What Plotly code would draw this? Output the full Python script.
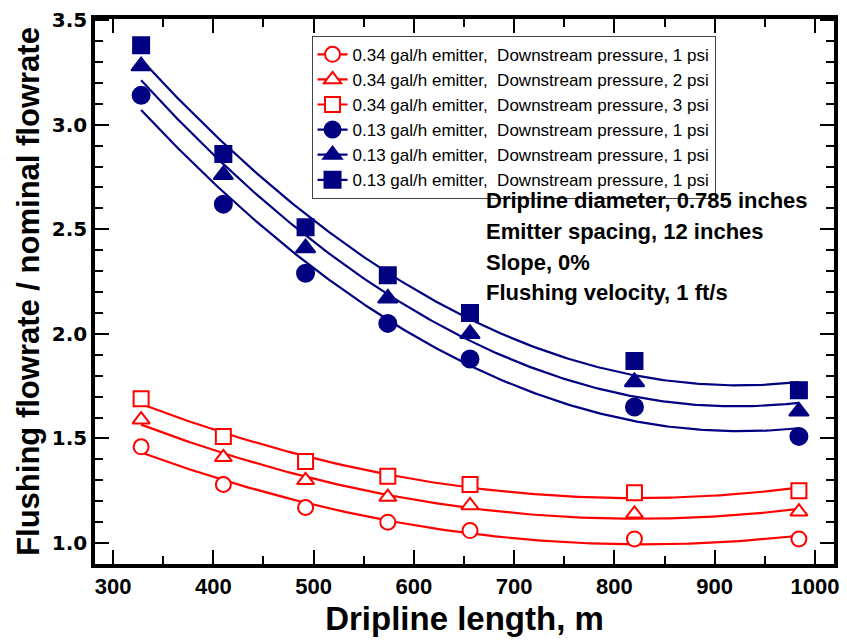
import numpy as np
import plotly.graph_objects as go

# Data
length_m = [328, 410, 492, 574, 656, 820, 984]
red_1psi = [1.46, 1.28, 1.17, 1.10, 1.06, 1.02, 1.02]
red_2psi = [1.59, 1.41, 1.30, 1.22, 1.18, 1.14, 1.15]
red_3psi = [1.69, 1.51, 1.39, 1.32, 1.28, 1.24, 1.25]
blue_a = [3.14, 2.62, 2.29, 2.05, 1.88, 1.65, 1.51]
blue_b = [3.28, 2.76, 2.41, 2.17, 2.00, 1.77, 1.63]
blue_c = [3.38, 2.86, 2.51, 2.28, 2.10, 1.87, 1.73]

names = [
    "0.34 gal/h emitter,\u00a0\u00a0Downstream pressure, 1 psi",
    "0.34 gal/h emitter,\u00a0\u00a0Downstream pressure, 2 psi",
    "0.34 gal/h emitter,\u00a0\u00a0Downstream pressure, 3 psi",
    "0.13 gal/h emitter,\u00a0\u00a0Downstream pressure, 1 psi",
    "0.13 gal/h emitter,\u00a0\u00a0Downstream pressure, 1 psi",
    "0.13 gal/h emitter,\u00a0\u00a0Downstream pressure, 1 psi",
]
series = [red_1psi, red_2psi, red_3psi, blue_a, blue_b, blue_c]
RED = "#ff0000"
NAVY = "#000080"
colors = [RED, RED, RED, NAVY, NAVY, NAVY]
symbols = ["circle", "triangle-up", "square", "circle", "triangle-up", "square"]
fills = ["white", "white", "white", NAVY, NAVY, NAVY]
sizes = [15, 15, 15, 17, 17, 16]

BOLD = "Liberation Sans, Arial, sans-serif"

fig = go.Figure()
xs = np.array(length_m, dtype=float)
xfit = np.linspace(xs.min(), xs.max(), 200)
for name, ys, c, sym, fc, sz in zip(names, series, colors, symbols, fills, sizes):
    coef = np.polyfit(xs, np.array(ys), 2)
    fig.add_trace(go.Scatter(
        x=xfit, y=np.polyval(coef, xfit), mode="lines",
        line=dict(color=c, width=2.2), showlegend=False, hoverinfo="skip"))
    fig.add_trace(go.Scatter(
        x=length_m, y=ys, mode="markers", name=name,
        marker=dict(symbol=sym, size=sz, color=fc, line=dict(color=c, width=2)),
        showlegend=False))
    fig.add_trace(go.Scatter(
        x=[None], y=[None], mode="lines+markers", name=name,
        line=dict(color=c, width=2.2),
        marker=dict(symbol=sym, size=sz, color=fc, line=dict(color=c, width=2))))

axis_common = dict(
    showline=True, linewidth=3.5, linecolor="black", mirror="allticks",
    ticks="inside", ticklen=14, tickwidth=2, tickcolor="black",
    showgrid=False, zeroline=False,
)

fig.update_xaxes(
    range=[282, 1019], tickmode="array", tickvals=[300, 400, 500, 600, 700, 800, 900, 1000],
    minor=dict(dtick=50, tick0=0, ticks="inside", ticklen=8, tickwidth=1.5, tickcolor="black"),
    tickfont=dict(family=BOLD, size=22, color="black", weight="bold"),
    title=dict(text="<b>Dripline length, m</b>", standoff=10,
               font=dict(family=BOLD, size=33, color="black")),
    **axis_common)
fig.update_yaxes(
    range=[0.9, 3.505], tickmode="array", tickvals=[1.0, 1.5, 2.0, 2.5, 3.0, 3.5],
    ticktext=["1.0", "1.5", "2.0", "2.5", "3.0", "3.5"],
    minor=dict(dtick=0.1, tick0=0, ticks="inside", ticklen=8, tickwidth=1.5, tickcolor="black"),
    tickfont=dict(family="DejaVu Sans, sans-serif", size=20, color="black", weight="bold"),
    title=dict(text="<b>Flushing flowrate / nominal flowrate</b>", standoff=4,
               font=dict(family=BOLD, size=31, color="black")),
    **axis_common)

notes = ["Dripline diameter, 0.785 inches", "Emitter spacing, 12 inches",
         "Slope, 0%", "Flushing velocity, 1 ft/s"]
for i, t in enumerate(notes):
    fig.add_annotation(text="<b>" + t + "</b>", xref="paper", yref="paper",
                       x=(487 - 95) / 744, y=(564 - 195 - i * 31.3) / 553,
                       xanchor="left", yanchor="middle", showarrow=False,
                       font=dict(family=BOLD, size=22, color="black"))

fig.update_layout(
    width=847, height=644,
    margin=dict(l=95, r=8, t=11, b=80),
    plot_bgcolor="white", paper_bgcolor="white",
    legend=dict(x=(313 - 95) / 744, y=(564 - 28) / 553, xanchor="left", yanchor="top",
                bordercolor="#444", borderwidth=1, bgcolor="white",
                font=dict(family=BOLD, size=17, color="black"),
                tracegroupgap=0),
    showlegend=True,
)

fig.write_html("out.html", post_script="document.body.style.margin='0';",
               config={"displayModeBar": False})
